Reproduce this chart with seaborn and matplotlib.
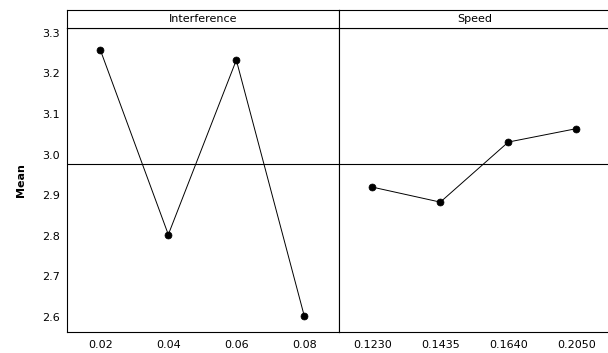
import pandas as pd
import seaborn as sns
import matplotlib
matplotlib.use('Agg')
import matplotlib.pyplot as plt

# main effects data
interference_levels = ['0.02', '0.04', '0.06', '0.08']
interference_means = [3.258, 2.803, 3.233, 2.602]
speed_levels = ['0.1230', '0.1435', '0.1640', '0.2050']
speed_means = [2.920, 2.883, 3.031, 3.064]
grand_mean = 2.977
y_ticks = [2.6, 2.7, 2.8, 2.9, 3.0, 3.1, 3.2, 3.3]

sns.set_style('white')
plt.rcParams['font.family'] = ['DejaVu Sans']
plt.rcParams['font.size'] = 8
plt.rcParams['text.color'] = 'black'

fig = plt.figure(figsize=(6.08, 3.53), dpi=100)
W, H = 608, 353
left, right_edge, div = 67, 611, 339
bottom_px, top_px, strip_top = 332, 28, 10

panels = [
    ('Interference', interference_levels, interference_means, left, div),
    ('Speed', speed_levels, speed_means, div, right_edge),
]

for i, (name, levels, means, x0, x1) in enumerate(panels):
    ax = fig.add_axes([x0 / W, 1 - bottom_px / H, (x1 - x0) / W, (bottom_px - top_px) / H])
    df = pd.DataFrame({'level': levels, 'mean': means})
    sns.pointplot(data=df, x='level', y='mean', color='black', markers='o',
                  markersize=5, linewidth=0.7, ax=ax)
    ax.axhline(grand_mean, color='black', linewidth=0.8, zorder=0)
    ax.set_ylim(2.563, 3.312)
    ax.set_xlim(-0.49, 3.51)
    ax.set_xlabel('')
    ax.set_ylabel('')
    ax.set_yticks(y_ticks)
    ax.tick_params(axis='both', direction='out', length=3, width=0.6,
                   labelsize=8, colors='black', pad=2)
    for s in ax.spines.values():
        s.set_color('black')
        s.set_linewidth(0.8)
    if i == 0:
        ax.set_yticklabels([f'{t:.1f}' for t in y_ticks])
        ax.set_ylabel('Mean', fontweight='bold', fontsize=8, labelpad=12, color='black')
    else:
        ax.tick_params(axis='y', left=False, labelleft=False)
    ax.tick_params(axis='x', pad=3)

    # strip header
    sax = fig.add_axes([x0 / W, 1 - top_px / H, (x1 - x0) / W, (top_px - strip_top) / H])
    sax.set_xticks([])
    sax.set_yticks([])
    for s in sax.spines.values():
        s.set_color('black')
        s.set_linewidth(0.8)
    sax.text(0.5, 0.5, name, ha='center', va='center', fontsize=8,
             color='black', transform=sax.transAxes)

fig.savefig('out.png', dpi=100)
